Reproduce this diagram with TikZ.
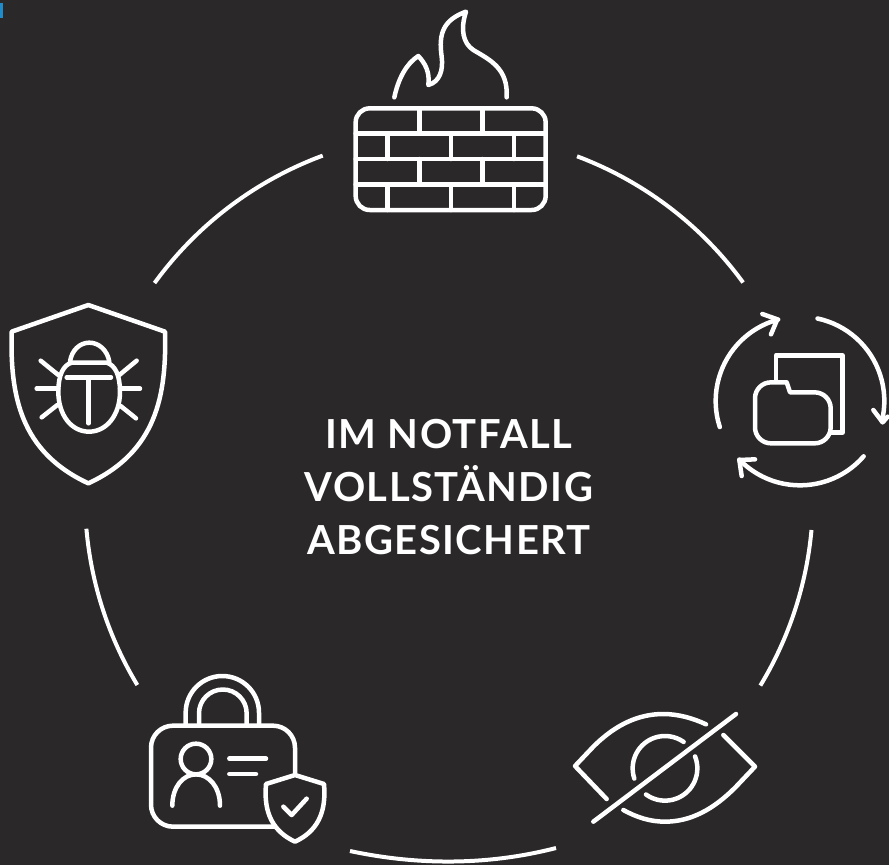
\documentclass[tikz,border=0pt]{standalone}
\usepackage{fontspec}
\setmainfont{Lato}
\definecolor{darkBack}{HTML}{2A2829}
\definecolor{cornerBlue}{HTML}{1E8BCB}
\begin{document}
\begin{tikzpicture}
[x=1pt,y=1pt,yscale=-1,%
  iconLine/.style={draw=white,line width=4.5pt,line cap=round,line join=round},%
  ringLine/.style={draw=white,line width=4pt},%
  centerText/.style={text=white,align=center,font=\fontsize{40}{52.7}\selectfont\bfseries\addfontfeature{LetterSpace=3.6}}]
\useasboundingbox (0,0) rectangle (889,865);
\fill[darkBack] (0,0) rectangle (889,865);
\fill[cornerBlue] (0,3) rectangle (3,18);
%% draw the ring
\coordinate (ringCenter) at (449,497);
\foreach \startangle/\endangle in {-69.4/-36.1, 5.2/31.2, 148.9/175, 216/249.7}
{
  \draw[ringLine] (ringCenter) ++(\startangle:364) arc[start angle=\startangle,end angle=\endangle,radius=364];
}
\draw[ringLine] (350,851) .. controls (418,865.5) and (488,865.5) .. (556,848);
%% the text in the middle
\node[centerText] (title) at (449,487) {IM NOTFALL\\VOLLSTÄNDIG\\ABGESICHERT};
%% firewall
\begin{scope}[shift={(340,0)},scale=1/3]
  \draw[iconLine,rounded corners=14pt] (47,325) rectangle (617,630);
  \foreach \y in {400,477,553}
  {
    \draw[iconLine] (47,\y) -- (617,\y);
  }
  \foreach \x/\ystart/\yend in {239/325/400, 427/325/400, 143/400/477, 333/400/477, 522/400/477,
    239/477/553, 427/477/553, 143/553/630, 333/553/630, 522/553/630}
  {
    \draw[iconLine] (\x,\ystart) -- (\x,\yend);
  }
  \draw[iconLine] (163,292) .. controls (175,235) and (200,190) .. (235,168)
    .. controls (255,190) and (270,215) .. (265,255)
    .. controls (300,245) and (310,210) .. (305,170)
    .. controls (295,100) and (310,60) .. (378,35)
    .. controls (360,90) and (370,130) .. (400,150)
    .. controls (450,180) and (505,205) .. (500,292);
\end{scope}
%% folder with arrows
\begin{scope}[shift={(700,300)},scale=1/3]
  \draw[iconLine] (228,240) -- (228,166) -- (427,166) -- (427,398) -- (392,398);
  \draw[iconLine] (260,247) -- (270,277) [rounded corners=16pt] -- (392,277) -- (392,430) -- (165,430) -- (165,247) [sharp corners] -- (260,247);
  \coordinate (arrowCenter) at (300,303);
  \foreach \startangle/\endangle in {162/255, -78/14, 41/136}
  {
    \draw[iconLine] (arrowCenter) ++(\startangle:253) arc[start angle=\startangle,end angle=\endangle,radius=253];
  }
  \draw[iconLine] (187,42) -- (232,58) -- (213,103);
  \draw[iconLine] (520,330) -- (548,367) -- (563,350);
  \draw[iconLine] (125,528) -- (118,480) -- (165,478);
\end{scope}
%% crossed out eye
\begin{scope}[shift={(560,700)},scale=1/3]
  \draw[iconLine] (140,297) -- (45,198) -- (100,140) .. controls (170,70) and (240,42) .. (310,42) .. controls (355,42) and (400,55) .. (438,73);
  \draw[iconLine] (490,105) -- (585,200) -- (530,258) .. controls (460,330) and (390,365) .. (315,365) .. controls (270,365) and (230,352) .. (190,330);
  \draw[iconLine] (100,365) -- (528,42);
  \coordinate (irisCenter) at (315,205);
  \foreach \startangle/\endangle in {161.6/305.2, -21.7/126}
  {
    \draw[iconLine] (irisCenter) ++(\startangle:97) arc[start angle=\startangle,end angle=\endangle,radius=97];
  }
\end{scope}
%% lock with person and small shield
\begin{scope}[shift={(140,670)},scale=1/3]
  \draw[iconLine,rounded corners=22pt] (465,313) -- (465,167) -- (33,167) -- (33,470) -- (405,470);
  \draw[iconLine] (137,165) -- (137,128) arc[start angle=180,end angle=360,radius=110] -- (357,165);
  \draw[iconLine] (177,165) -- (177,130) arc[start angle=180,end angle=360,radius=71.5] -- (320,165);
  \draw[iconLine] (168,267) circle[radius=46];
  \draw[iconLine] (97,407) .. controls (97,350) and (130,313) .. (168,313) .. controls (206,313) and (240,350) .. (240,407);
  \draw[iconLine] (268,266) -- (378,266);
  \draw[iconLine] (268,312) -- (348,312);
  \draw[iconLine] (465,315) -- (552,342) .. controls (560,430) and (530,485) .. (465,515) .. controls (400,485) and (370,430) .. (378,342) -- cycle;
  \draw[iconLine] (430,410) -- (455,435) -- (500,386);
\end{scope}
%% shield with bug
\begin{scope}[shift={(0,295)},scale=1/3]
  \draw[iconLine] (265,30) -- (495,110) .. controls (500,300) and (470,470) .. (265,565) .. controls (60,470) and (30,300) .. (35,110) -- cycle;
  \draw[iconLine] (210,200) .. controls (215,165) and (240,143) .. (268,143) .. controls (296,143) and (322,165) .. (328,200);
  \draw[iconLine] (215,203) -- (320,203) .. controls (345,210) and (360,240) .. (360,290) .. controls (360,360) and (320,410) .. (267,410)
    .. controls (214,410) and (175,360) .. (175,290) .. controls (175,240) and (190,210) .. (215,203);
  \draw[iconLine] (200,247) -- (333,247);
  \draw[iconLine] (266,247) -- (266,385);
  \foreach \xstart/\ystart/\xend/\yend in {122/197/175/240, 110/281/175/281, 125/367/172/330,
    410/197/358/240, 420/281/360/281, 408/370/362/333}
  {
    \draw[iconLine] (\xstart,\ystart) -- (\xend,\yend);
  }
\end{scope}
\end{tikzpicture}
\end{document}
